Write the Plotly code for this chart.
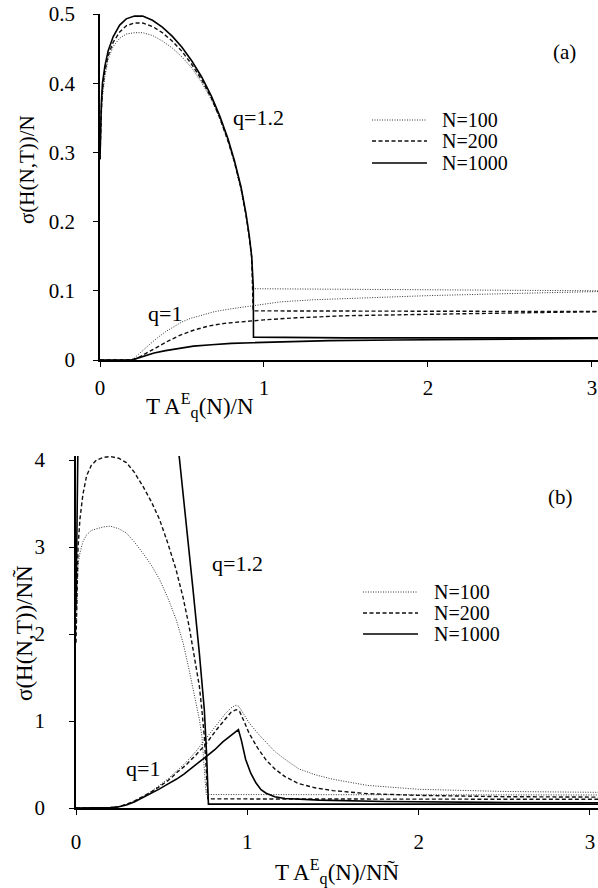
import plotly.graph_objects as go

W, H = 598, 888

# ---------------- Panel (a) data ----------------
a_q12_n1000_x = [0, 0.003, 0.008, 0.015, 0.03, 0.05, 0.08, 0.12, 0.16, 0.21, 0.26, 0.32, 0.38, 0.44, 0.50,
                 0.56, 0.62, 0.68, 0.73, 0.78, 0.82, 0.86, 0.89, 0.91, 0.925, 0.935, 0.936, 1.5, 2.0, 2.5, 3.05]
a_q12_n1000_y = [0.29, 0.33, 0.37, 0.40, 0.425, 0.447, 0.467, 0.484, 0.493, 0.497, 0.497, 0.491, 0.481, 0.468, 0.452,
                 0.432, 0.409, 0.381, 0.353, 0.320, 0.288, 0.250, 0.212, 0.180, 0.150, 0.105, 0.033, 0.032, 0.032, 0.032, 0.032]

a_q12_n200_x = [0, 0.003, 0.008, 0.015, 0.03, 0.05, 0.08, 0.12, 0.16, 0.21, 0.26, 0.32, 0.38, 0.44, 0.50,
                0.56, 0.62, 0.68, 0.73, 0.78, 0.82, 0.86, 0.89, 0.91, 0.925, 0.934, 1.5, 2.0, 2.5, 3.05]
a_q12_n200_y = [0.29, 0.325, 0.36, 0.39, 0.418, 0.44, 0.459, 0.474, 0.483, 0.487, 0.487, 0.482, 0.473, 0.461, 0.446,
                0.427, 0.405, 0.378, 0.350, 0.317, 0.286, 0.248, 0.210, 0.178, 0.148, 0.071, 0.071, 0.071, 0.070, 0.070]

a_q12_n100_x = [0, 0.003, 0.008, 0.015, 0.03, 0.05, 0.08, 0.12, 0.16, 0.21, 0.26, 0.32, 0.38, 0.44, 0.50,
                0.56, 0.62, 0.68, 0.73, 0.78, 0.82, 0.86, 0.89, 0.91, 0.925, 0.932, 1.5, 2.0, 2.5, 3.05]
a_q12_n100_y = [0.29, 0.32, 0.35, 0.38, 0.41, 0.435, 0.453, 0.465, 0.471, 0.473, 0.473, 0.469, 0.461, 0.451, 0.438,
                0.422, 0.401, 0.376, 0.349, 0.316, 0.285, 0.246, 0.210, 0.178, 0.148, 0.103, 0.102, 0.101, 0.100, 0.100]

a_q1_n100_x = [0, 0.19, 0.21, 0.25, 0.30, 0.35, 0.40, 0.45, 0.50, 0.55, 0.62, 0.70, 0.80, 0.93, 1.1, 1.3, 1.6, 2.0, 2.5, 3.05]
a_q1_n100_y = [0, 0, 0.003, 0.012, 0.022, 0.032, 0.041, 0.048, 0.055, 0.060, 0.065, 0.070, 0.074, 0.078, 0.084, 0.087, 0.090, 0.093, 0.096, 0.099]

a_q1_n200_x = [0, 0.20, 0.23, 0.27, 0.31, 0.36, 0.42, 0.49, 0.57, 0.66, 0.76, 0.88, 1.0, 1.2, 1.5, 2.0, 2.5, 3.05]
a_q1_n200_y = [0, 0, 0.003, 0.008, 0.013, 0.020, 0.028, 0.036, 0.043, 0.049, 0.053, 0.056, 0.058, 0.061, 0.064, 0.066, 0.068, 0.070]

a_q1_n1000_x = [0, 0.19, 0.22, 0.27, 0.33, 0.40, 0.48, 0.57, 0.68, 0.80, 0.93, 1.1, 1.4, 1.8, 2.4, 3.05]
a_q1_n1000_y = [0, 0, 0.002, 0.006, 0.010, 0.0135, 0.017, 0.020, 0.022, 0.024, 0.025, 0.026, 0.028, 0.029, 0.030, 0.031]

# ---------------- Panel (b) data ----------------
b_q12_n1000_x = [0, 0.003, 0.006, 0.02, 0.05, 0.10, 0.20, 0.30, 0.40, 0.50, 0.56, 0.603, 0.642, 0.681, 0.72,
                 0.749, 0.762, 0.772, 0.773, 1.5, 2.0, 2.5, 3.05]
b_q12_n1000_y = [2.3, 3.6, 4.6, 5.6, 6.2, 6.6, 6.8, 6.6, 6.0, 5.1, 4.6, 4.03, 3.32, 2.55, 1.78,
                 1.13, 0.63, 0.06, 0.045, 0.045, 0.045, 0.045, 0.045]

b_q12_n200_x = [0, 0.005, 0.012, 0.023, 0.04, 0.062, 0.09, 0.12, 0.16, 0.20, 0.25, 0.294, 0.34, 0.39, 0.44,
                0.487, 0.535, 0.584, 0.625, 0.66, 0.69, 0.72, 0.735, 0.749, 0.76, 0.768, 0.77, 1.5, 2.0, 2.5, 3.05]
b_q12_n200_y = [1.9, 2.6, 3.0, 3.32, 3.6, 3.82, 3.94, 4.0, 4.03, 4.04, 4.02, 3.97, 3.86, 3.70, 3.52,
                3.32, 3.05, 2.74, 2.42, 2.09, 1.76, 1.40, 1.12, 0.82, 0.45, 0.13, 0.105, 0.103, 0.102, 0.101, 0.100]

b_q12_n100_x = [0, 0.005, 0.012, 0.023, 0.04, 0.062, 0.09, 0.12, 0.16, 0.20, 0.25, 0.294, 0.34, 0.39, 0.44,
                0.487, 0.535, 0.584, 0.625, 0.66, 0.69, 0.72, 0.735, 0.743, 0.752, 0.758, 0.76, 1.5, 2.0, 2.5, 3.05]
b_q12_n100_y = [2.0, 2.5, 2.8, 2.93, 3.06, 3.14, 3.19, 3.21, 3.23, 3.24, 3.21, 3.16, 3.06, 2.93, 2.79,
                2.63, 2.42, 2.17, 1.90, 1.59, 1.30, 1.02, 0.82, 0.63, 0.40, 0.17, 0.155, 0.153, 0.152, 0.151, 0.150]

b_q1_n100_x = [0, 0.18, 0.24, 0.29, 0.34, 0.39, 0.44, 0.49, 0.54, 0.59, 0.64, 0.70, 0.76, 0.82, 0.87, 0.905, 0.93,
               0.95, 0.98, 1.01, 1.06, 1.11, 1.16, 1.22, 1.30, 1.40, 1.50, 1.70, 2.0, 2.5, 3.05]
b_q1_n100_y = [0, 0, 0.01, 0.04, 0.08, 0.13, 0.19, 0.26, 0.34, 0.43, 0.52, 0.65, 0.80, 0.96, 1.08, 1.15, 1.18,
               1.17, 1.08, 0.98, 0.86, 0.75, 0.65, 0.56, 0.45, 0.38, 0.33, 0.26, 0.215, 0.19, 0.18]

b_q1_n200_x = [0, 0.18, 0.24, 0.29, 0.34, 0.39, 0.44, 0.49, 0.54, 0.59, 0.64, 0.70, 0.76, 0.82, 0.87, 0.905, 0.935,
               0.955, 0.98, 1.01, 1.06, 1.11, 1.16, 1.22, 1.30, 1.40, 1.50, 1.70, 2.0, 2.5, 3.05]
b_q1_n200_y = [0, 0, 0.01, 0.04, 0.08, 0.13, 0.185, 0.25, 0.32, 0.41, 0.49, 0.61, 0.74, 0.90, 1.02, 1.10, 1.13,
               1.11, 1.00, 0.86, 0.69, 0.55, 0.45, 0.36, 0.28, 0.23, 0.20, 0.165, 0.145, 0.13, 0.125]

b_q1_n1000_x = [0, 0.16, 0.20, 0.25, 0.294, 0.34, 0.391, 0.44, 0.488, 0.535, 0.585, 0.63, 0.682, 0.72, 0.76, 0.81,
                0.857, 0.90, 0.93, 0.948, 0.965, 0.99, 1.02, 1.05, 1.08, 1.11, 1.16, 1.22, 1.42, 1.8, 2.4, 3.05]
b_q1_n1000_y = [0, 0, 0.005, 0.015, 0.035, 0.07, 0.12, 0.17, 0.22, 0.275, 0.33, 0.39, 0.465, 0.53, 0.59, 0.67,
                0.76, 0.83, 0.87, 0.90, 0.78, 0.56, 0.40, 0.29, 0.21, 0.17, 0.13, 0.11, 0.09, 0.075, 0.065, 0.06]

series_names = ["N=100", "N=200", "N=1000"]
x_ticks = [0, 1, 2, 3]
x_labels = ["0", "1", "2", "3"]
a_y_ticks = [0, 0.1, 0.2, 0.3, 0.4, 0.5]
a_y_labels = ["0", "0.1", "0.2", "0.3", "0.4", "0.5"]
b_y_ticks = [0, 1, 2, 3, 4]
b_y_labels = ["0", "1", "2", "3", "4"]

FONT = "Liberation Serif, Times New Roman, serif"
styles = {
    "N=100": dict(color="#333333", width=1.0, dash="1px,1.5px"),
    "N=200": dict(color="#111111", width=1.4, dash="4px,2.5px"),
    "N=1000": dict(color="#000000", width=1.6, dash="solid"),
}

fig = go.Figure()

panel_a = [
    ("N=100", a_q12_n100_x, a_q12_n100_y, a_q1_n100_x, a_q1_n100_y),
    ("N=200", a_q12_n200_x, a_q12_n200_y, a_q1_n200_x, a_q1_n200_y),
    ("N=1000", a_q12_n1000_x, a_q12_n1000_y, a_q1_n1000_x, a_q1_n1000_y),
]
panel_b = [
    ("N=100", b_q12_n100_x, b_q12_n100_y, b_q1_n100_x, b_q1_n100_y),
    ("N=200", b_q12_n200_x, b_q12_n200_y, b_q1_n200_x, b_q1_n200_y),
    ("N=1000", b_q12_n1000_x, b_q12_n1000_y, b_q1_n1000_x, b_q1_n1000_y),
]

for panel, xa, ya in [(panel_a, "x", "y"), (panel_b, "x2", "y2")]:
    for name, x12, y12, x1, y1 in panel:
        fig.add_trace(go.Scatter(x=x12, y=y12, mode="lines", name=name + " (q=1.2)", line=styles[name],
                                 xaxis=xa, yaxis=ya, showlegend=False))
        fig.add_trace(go.Scatter(x=x1, y=y1, mode="lines", name=name + " (q=1)", line=styles[name],
                                 xaxis=xa, yaxis=ya, showlegend=False))

def px(v):
    return v / W

def py(v):
    return 1 - v / H

axis_common = dict(showline=True, linecolor="black", linewidth=1.5, ticks="outside", ticklen=5,
                   tickwidth=1.2, tickcolor="black", showgrid=False, zeroline=False,
                   tickfont=dict(family=FONT, size=21, color="black"))

fig.update_layout(
    width=W, height=H, autosize=False,
    margin=dict(l=0, r=0, t=0, b=0, autoexpand=False),
    paper_bgcolor="white", plot_bgcolor="white",
    font=dict(family=FONT, size=21, color="black"),
    showlegend=False,
    xaxis=dict(domain=[px(100), 1.0], range=[0, 3.037], tickvals=x_ticks, ticktext=x_labels, anchor="y",
               ticklabelstandoff=3, **axis_common),
    yaxis=dict(domain=[py(360), py(14)], range=[0, 0.5], tickvals=a_y_ticks, ticktext=a_y_labels,
               anchor="x", ticklabelstandoff=14, **axis_common),
    xaxis2=dict(domain=[px(76), 1.0], range=[0, 3.047], tickvals=x_ticks, ticktext=x_labels, anchor="y2",
                ticklabelstandoff=9, **axis_common),
    yaxis2=dict(domain=[py(808), py(456)], range=[0, 4.046], tickvals=b_y_ticks, ticktext=b_y_labels,
                anchor="x2", ticklabelstandoff=20, **axis_common),
)

# legend key drawn as decoration, in paper coordinates
legend_rows = {
    "a": dict(x0=372, x1=427, xt=440, ys=[120, 141, 163]),
    "b": dict(x0=363, x1=418, xt=432, ys=[592, 613, 634]),
}
for key, spec in legend_rows.items():
    for name, yy in zip(series_names, spec["ys"]):
        st = styles[name]
        fig.add_shape(type="line", xref="paper", yref="paper",
                      x0=px(spec["x0"]), x1=px(spec["x1"]), y0=py(yy), y1=py(yy),
                      line=dict(color=st["color"], width=st["width"], dash=st["dash"]))
        fig.add_annotation(text=name, xref="paper", yref="paper", x=px(spec["xt"]), y=py(yy),
                           xanchor="left", yanchor="middle", showarrow=False,
                           font=dict(family=FONT, size=20, color="black"))

annotations = [
    dict(text="T A<sup>E</sup><sub>q</sub>(N)/N", x=px(200), y=py(406), size=23),
    dict(text="T A<sup>E</sup><sub>q</sub>(N)/NÑ", x=px(337), y=py(872), size=23),
    dict(text="σ(H(N,T))/N", x=px(27), y=py(170), textangle=-90, size=21),
    dict(text="σ(H(N,T))/NÑ", x=px(24), y=py(633), textangle=-90, size=23),
    dict(text="(a)", x=px(564), y=py(52), size=21),
    dict(text="(b)", x=px(560), y=py(497), size=21),
    dict(text="q=1.2", x=px(258), y=py(118), size=22),
    dict(text="q=1", x=px(165), y=py(313), size=22),
    dict(text="q=1.2", x=px(237), y=py(563), size=22),
    dict(text="q=1", x=px(143), y=py(768), size=22),
]
for a in annotations:
    size = a.pop("size")
    fig.add_annotation(xref="paper", yref="paper", showarrow=False, xanchor="center", yanchor="middle",
                       font=dict(family=FONT, size=size, color="black"), **a)

fig.write_html("out.html")
